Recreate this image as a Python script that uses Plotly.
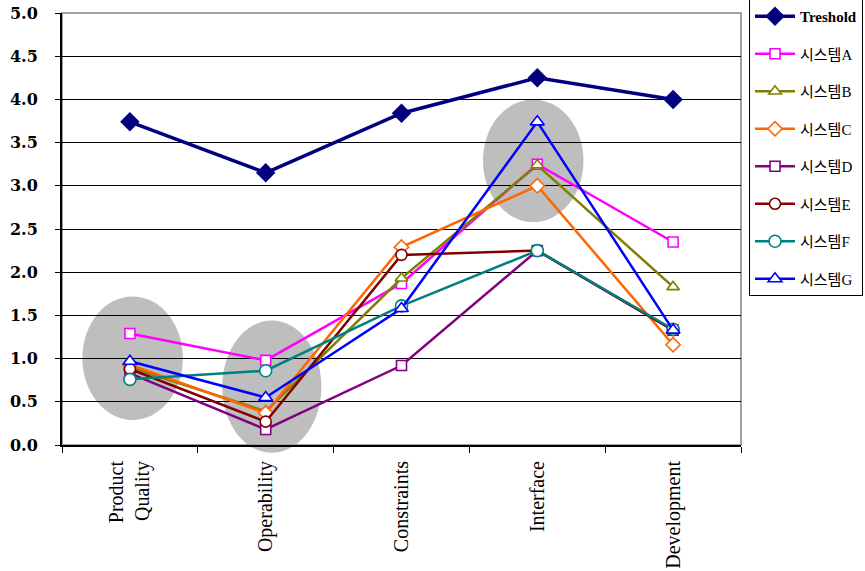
import plotly.graph_objects as go

categories = ["Product<br>Quality", "Operability", "Constraints", "Interface", "Development"]

threshold = [3.74, 3.15, 3.84, 4.25, 4.00]
sys_a = [1.29, 0.98, 1.87, 3.25, 2.35]
sys_b = [0.90, 0.39, 1.93, 3.24, 1.83]
sys_c = [0.93, 0.37, 2.29, 3.00, 1.16]
sys_d = [0.83, 0.18, 0.92, 2.25, 1.33]
sys_e = [0.88, 0.27, 2.20, 2.25, 1.33]
sys_f = [0.76, 0.86, 1.61, 2.25, 1.34]
sys_g = [0.97, 0.55, 1.58, 3.74, 1.33]

series = [
    ("시스템A", sys_a, "#FF00FF", "square", 10),
    ("시스템B", sys_b, "#808000", "triangle-up", 11),
    ("시스템C", sys_c, "#FF6600", "diamond", 11),
    ("시스템D", sys_d, "#800080", "square", 10),
    ("시스템E", sys_e, "#800000", "circle", 11),
    ("시스템F", sys_f, "#008080", "circle", 12),
    ("시스템G", sys_g, "#0000FF", "triangle-up", 12),
]

serif = "Liberation Serif, DejaVu Serif, serif"
legend_font = "Liberation Serif, Noto Sans CJK KR, serif"
Y_MAX = 5.0

fig = go.Figure()

fig.add_trace(go.Scatter(
    x=categories, y=threshold, name="<b>Treshold</b>", mode="lines+markers",
    line=dict(color="#000080", width=3.5),
    marker=dict(symbol="diamond", size=15, color="#000080"),
    legendgroup="t",
))

for i, (name, vals, color, sym, size) in enumerate(series):
    fig.add_trace(go.Scatter(
        x=categories, y=vals, name=name, mode="lines+markers",
        line=dict(color=color, width=2.5),
        marker=dict(symbol=sym, size=size, color="white",
                    line=dict(color=color, width=1.6)),
        legendgroup=f"g{i}",
    ))

# grey highlight ellipses around clusters (x in category units, y in score units)
ellipses = [(-0.35, 0.39, 0.29, 1.72), (0.68, 1.41, -0.09, 1.44), (2.60, 3.34, 2.58, 4.00)]
for x0, x1, y0, y1 in ellipses:
    fig.add_shape(type="circle", xref="x", yref="paper",
                  x0=x0, x1=x1, y0=y0 / Y_MAX, y1=y1 / Y_MAX,
                  fillcolor="#BEBEBE", line=dict(width=0), layer="below")

# frame around plotting area
fig.add_shape(type="rect", xref="paper", yref="paper", x0=0, x1=1, y0=0, y1=1,
              line=dict(color="#A0A0A0", width=2), layer="below")

fig.update_layout(
    width=865, height=571,
    margin=dict(l=62, r=124, t=13, b=126, autoexpand=False),
    paper_bgcolor="white", plot_bgcolor="white",
    showlegend=True,
    legend=dict(
        x=1.0118, y=0.345, xanchor="left", yanchor="bottom",
        bordercolor="black", borderwidth=1, bgcolor="white",
        font=dict(family=legend_font, size=15, color="black"),
        tracegroupgap=15, itemwidth=40,
    ),
)

fig.update_xaxes(
    type="category", range=[-0.5, 4.5],
    showline=True, linecolor="black", linewidth=2,
    ticks="outside", tickson="boundaries", ticklen=6, tickcolor="black", tickwidth=1,
    tickangle=-90, tickfont=dict(family=serif, size=20, color="black"),
    ticklabelstandoff=6, showgrid=False,
)

fig.update_yaxes(
    range=[0, Y_MAX], dtick=0.5, tick0=0, tickformat=".1f",
    showline=True, linecolor="black", linewidth=2,
    ticks="outside", ticklen=5, tickcolor="black",
    showgrid=True, gridcolor="black", gridwidth=1, zeroline=False,
    tickfont=dict(family="DejaVu Serif, serif", size=16, color="black", weight="bold"),
    ticklabelstandoff=14,
)

fig.write_html("out.html")
